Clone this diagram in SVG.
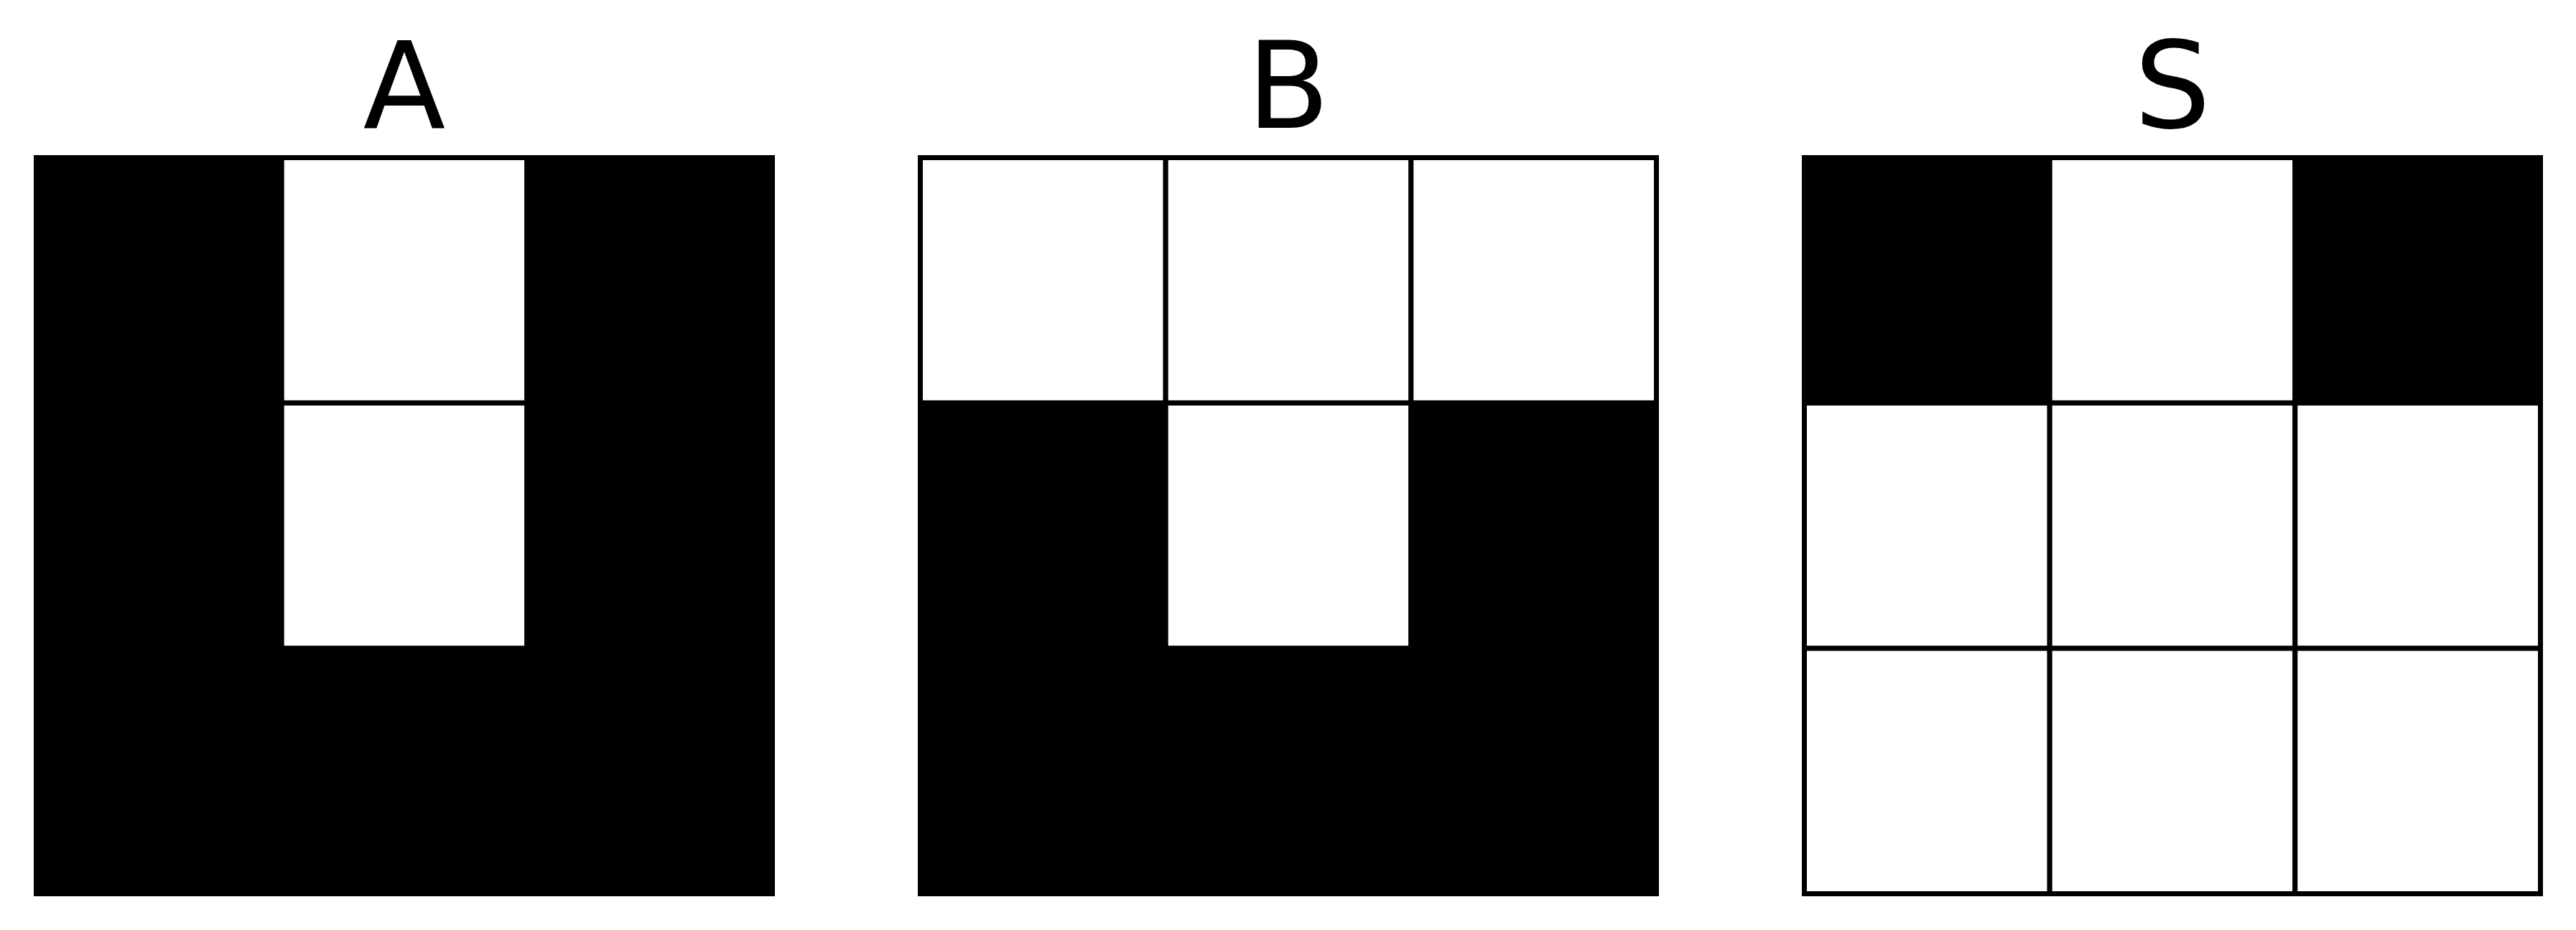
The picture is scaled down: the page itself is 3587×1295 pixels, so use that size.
<svg xmlns="http://www.w3.org/2000/svg" width="3587" height="1295" viewBox="0 0 3587 1295">
<style>
.c{stroke:#000;stroke-width:7}
.b{fill:#000}
.w{fill:#fff}
.t{font-family:"DejaVu Sans",sans-serif;font-size:168px;fill:#000;text-anchor:middle}
</style>
<rect width="3587" height="1295" fill="#fff"/>
<defs>
<rect id="cell" width="341.67" height="341.67"/>
</defs>
<g id="panelA">
<text class="t" x="563" y="178">A</text>
<g transform="translate(50.5,219.5)">
<use href="#cell" class="c b" x="0" y="0"/>
<use href="#cell" class="c w" x="341.67" y="0"/>
<use href="#cell" class="c b" x="683.33" y="0"/>
<use href="#cell" class="c b" x="0" y="341.67"/>
<use href="#cell" class="c w" x="341.67" y="341.67"/>
<use href="#cell" class="c b" x="683.33" y="341.67"/>
<use href="#cell" class="c b" x="0" y="683.33"/>
<use href="#cell" class="c b" x="341.67" y="683.33"/>
<use href="#cell" class="c b" x="683.33" y="683.33"/>
</g>
</g>
<g id="panelB">
<text class="t" x="1794" y="178">B</text>
<g transform="translate(1281.5,219.5)">
<use href="#cell" class="c w" x="0" y="0"/>
<use href="#cell" class="c w" x="341.67" y="0"/>
<use href="#cell" class="c w" x="683.33" y="0"/>
<use href="#cell" class="c b" x="0" y="341.67"/>
<use href="#cell" class="c w" x="341.67" y="341.67"/>
<use href="#cell" class="c b" x="683.33" y="341.67"/>
<use href="#cell" class="c b" x="0" y="683.33"/>
<use href="#cell" class="c b" x="341.67" y="683.33"/>
<use href="#cell" class="c b" x="683.33" y="683.33"/>
</g>
</g>
<g id="panelS">
<text class="t" x="3025" y="178">S</text>
<g transform="translate(2512.5,219.5)">
<use href="#cell" class="c b" x="0" y="0"/>
<use href="#cell" class="c w" x="341.67" y="0"/>
<use href="#cell" class="c b" x="683.33" y="0"/>
<use href="#cell" class="c w" x="0" y="341.67"/>
<use href="#cell" class="c w" x="341.67" y="341.67"/>
<use href="#cell" class="c w" x="683.33" y="341.67"/>
<use href="#cell" class="c w" x="0" y="683.33"/>
<use href="#cell" class="c w" x="341.67" y="683.33"/>
<use href="#cell" class="c w" x="683.33" y="683.33"/>
</g>
</g>
<g id="connectors"/>
</svg>
